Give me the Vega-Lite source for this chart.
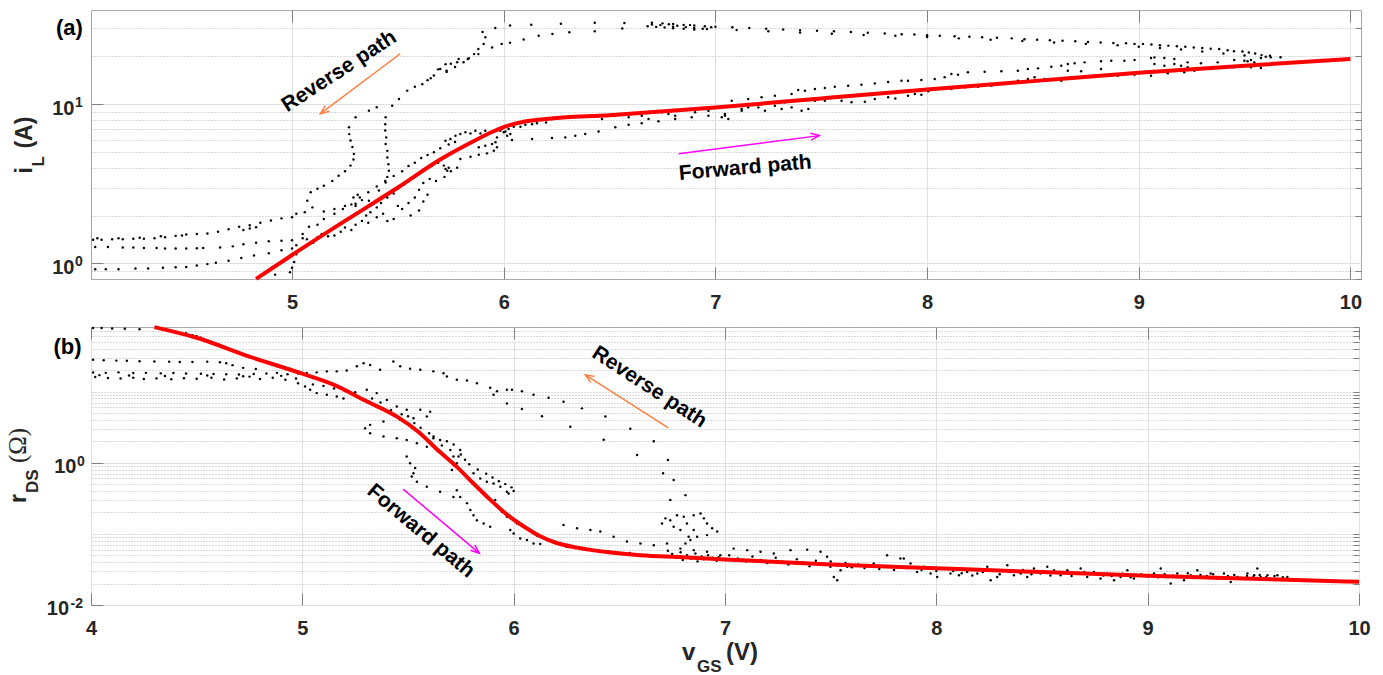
{
  "$schema": "https://vega.github.io/schema/vega-lite/v6.json",
  "background": "white",
  "padding": {"left": 5, "top": 9, "right": 5, "bottom": 5},
  "spacing": 5,
  "config": {
    "view": {"stroke": "#a6a6a6", "strokeWidth": 1},
    "font": "Liberation Sans",
    "axis": {"labelFont": "Liberation Sans", "labelFontSize": 20, "labelFontWeight": "bold", "labelColor": "#262626", "domain": false, "tickColor": "#808080", "gridColor": "#e1e1e1", "labelFlush": false, "labelOverlap": false}
  },
  "datasets": {
    "a_fit": [
      {"x": 4.83, "y": 0.8}, {"x": 5.0, "y": 1.13}, {"x": 5.25, "y": 1.85}, {"x": 5.5, "y": 3.0}, {"x": 5.7, "y": 4.5}, {"x": 5.85, "y": 5.8}, {"x": 5.95, "y": 6.75}, {"x": 6.02, "y": 7.35}, {"x": 6.1, "y": 7.8}, {"x": 6.2, "y": 8.1}, {"x": 6.5, "y": 8.55}, {"x": 7.0, "y": 9.55}, {"x": 7.5, "y": 10.9}, {"x": 8.0, "y": 12.4}, {"x": 8.5, "y": 14.0}, {"x": 9.0, "y": 15.8}, {"x": 9.5, "y": 17.5}, {"x": 10.0, "y": 19.3}
    ],
    "b_fit": [
      {"x": 4.3, "y": 80.5}, {"x": 4.5, "y": 57}, {"x": 4.75, "y": 31}, {"x": 5.0, "y": 17.8}, {"x": 5.15, "y": 12.4}, {"x": 5.3, "y": 7.4}, {"x": 5.45, "y": 4.4}, {"x": 5.55, "y": 2.7}, {"x": 5.65, "y": 1.42}, {"x": 5.73, "y": 0.88}, {"x": 5.81, "y": 0.51}, {"x": 5.89, "y": 0.3}, {"x": 5.97, "y": 0.185}, {"x": 6.05, "y": 0.126}, {"x": 6.13, "y": 0.091}, {"x": 6.2, "y": 0.075}, {"x": 6.3, "y": 0.064}, {"x": 6.45, "y": 0.055}, {"x": 6.6, "y": 0.05}, {"x": 6.8, "y": 0.047}, {"x": 7.0, "y": 0.0436}, {"x": 7.5, "y": 0.037}, {"x": 8.0, "y": 0.0328}, {"x": 8.5, "y": 0.029}, {"x": 9.0, "y": 0.0258}, {"x": 9.5, "y": 0.0234}, {"x": 10.0, "y": 0.0212}
    ],
    "a_dots": [
      {"x":9.67,"y":19.8},{"x":9.62,"y":20.2},{"x":9.58,"y":20.4},{"x":9.55,"y":20.9},{"x":9.52,"y":21.2},{"x":9.49,"y":21.5},{"x":9.45,"y":21.6},{"x":9.42,"y":21.9},{"x":9.38,"y":22.3},{"x":9.34,"y":22.4},{"x":9.3,"y":22.6},{"x":9.26,"y":22.8},{"x":9.22,"y":23.0},{"x":9.18,"y":23.2},{"x":9.14,"y":23.4},{"x":9.1,"y":23.5},{"x":9.06,"y":23.8},{"x":9.02,"y":24.0},{"x":8.98,"y":24.0},{"x":8.94,"y":24.2},{"x":8.88,"y":24.3},{"x":8.82,"y":24.5},{"x":8.76,"y":24.7},{"x":8.7,"y":24.9},{"x":8.64,"y":25.1},{"x":8.58,"y":25.3},{"x":8.52,"y":25.5},{"x":8.46,"y":25.7},{"x":8.4,"y":26.0},{"x":8.33,"y":26.2},{"x":8.26,"y":26.4},{"x":8.2,"y":26.6},{"x":8.13,"y":26.8},{"x":8.06,"y":27.0},{"x":8.0,"y":27.2},{"x":7.94,"y":27.5},{"x":7.88,"y":27.6},{"x":7.8,"y":27.9},{"x":7.72,"y":28.2},{"x":7.64,"y":28.5},{"x":7.56,"y":28.8},{"x":7.48,"y":29.0},{"x":7.4,"y":29.3},{"x":7.32,"y":29.6},{"x":7.24,"y":29.9},{"x":7.16,"y":30.2},{"x":7.08,"y":30.5},{"x":7.0,"y":30.8},{"x":6.95,"y":31.0},{"x":6.9,"y":31.3},{"x":6.85,"y":31.6},{"x":6.8,"y":32.0},{"x":6.75,"y":32.3},{"x":6.7,"y":32.6},
      {"x":9.6,"y":19.9},{"x":9.5,"y":20.3},{"x":9.4,"y":20.9},{"x":9.3,"y":21.5},{"x":9.2,"y":22.1},{"x":9.1,"y":22.6},{"x":9.0,"y":23.0},{"x":8.9,"y":23.5},{"x":8.75,"y":24.0},{"x":8.6,"y":24.5},{"x":8.45,"y":25.0},{"x":8.3,"y":25.5},{"x":8.15,"y":26.0},{"x":8.0,"y":26.5},{"x":7.85,"y":27.0},{"x":7.7,"y":27.3},{"x":7.55,"y":27.8},{"x":7.4,"y":28.3},{"x":7.25,"y":28.8},{"x":7.1,"y":29.3},{"x":6.96,"y":29.8},{"x":6.9,"y":29.5},{"x":6.85,"y":29.9},{"x":6.8,"y":30.1},{"x":6.76,"y":30.4},{"x":6.72,"y":30.7},{"x":6.68,"y":31.0},
      {"x":6.7,"y":31.8},{"x":6.74,"y":31.5},{"x":6.78,"y":31.9},{"x":6.82,"y":31.2},{"x":6.86,"y":30.6},{"x":6.9,"y":30.2},{"x":6.94,"y":29.9},{"x":6.98,"y":30.5},{"x":6.8,"y":30.8},{"x":6.88,"y":31.5},
      {"x":6.57,"y":32.5},{"x":6.43,"y":32.6},{"x":6.27,"y":32.1},{"x":6.13,"y":31.7},{"x":6.03,"y":31.3},{"x":5.96,"y":30.2},{"x":5.9,"y":28.5},{"x":5.913,"y":26.4},{"x":5.905,"y":24.0},{"x":5.88,"y":22.3},{"x":5.86,"y":20.7},{"x":5.83,"y":19.3},{"x":5.78,"y":18.4},{"x":5.73,"y":16.3},
      {"x":6.56,"y":30.0},{"x":6.43,"y":28.8},{"x":6.31,"y":28.4},{"x":6.23,"y":27.7},{"x":6.165,"y":27.0},{"x":6.094,"y":25.6},{"x":6.03,"y":24.4},{"x":5.99,"y":24.0},{"x":5.945,"y":22.8},{"x":5.88,"y":20.7},{"x":5.835,"y":19.5},{"x":5.81,"y":18.4},{"x":5.77,"y":17.2},{"x":5.73,"y":16.0},
      {"x":5.787,"y":19.3},{"x":5.75,"y":18.0},{"x":5.725,"y":17.9},{"x":5.7,"y":16.7},{"x":5.69,"y":16.6},{"x":5.67,"y":15.2},{"x":5.655,"y":14.6},{"x":5.64,"y":14.2},{"x":5.615,"y":13.4},{"x":5.58,"y":12.9},{"x":5.544,"y":12.2},{"x":5.505,"y":10.8},{"x":5.473,"y":9.8},{"x":5.442,"y":8.3},{"x":5.44,"y":7.5},{"x":5.44,"y":6.84},{"x":5.445,"y":6.2},{"x":5.442,"y":5.63},{"x":5.45,"y":5.1},{"x":5.45,"y":4.64},{"x":5.455,"y":4.2},{"x":5.457,"y":3.83},{"x":5.45,"y":3.5},{"x":5.442,"y":3.23},{"x":5.41,"y":2.87},{"x":5.363,"y":2.48},{"x":5.3,"y":2.37},{"x":5.25,"y":2.3},{"x":5.2,"y":2.2},{"x":5.15,"y":2.12},
      {"x":5.4,"y":9.6},{"x":5.363,"y":9.13},{"x":5.3,"y":8.3},{"x":5.269,"y":7.17},{"x":5.27,"y":6.5},{"x":5.276,"y":5.92},{"x":5.285,"y":5.4},{"x":5.292,"y":4.88},{"x":5.29,"y":4.5},{"x":5.276,"y":4.12},{"x":5.25,"y":3.8},{"x":5.22,"y":3.56},{"x":5.19,"y":3.3},{"x":5.15,"y":3.08},{"x":5.12,"y":2.95},{"x":5.088,"y":2.8},{"x":5.072,"y":2.48},{"x":5.096,"y":2.25},{"x":5.06,"y":2.1},{"x":5.02,"y":2.05},
      {"x":4.06,"y":1.41},{"x":4.1,"y":1.41},{"x":4.15,"y":1.42},{"x":4.2,"y":1.42},{"x":4.25,"y":1.43},{"x":4.3,"y":1.43},{"x":4.35,"y":1.44},{"x":4.4,"y":1.46},{"x":4.45,"y":1.49},{"x":4.5,"y":1.52},{"x":4.55,"y":1.53},{"x":4.6,"y":1.54},{"x":4.65,"y":1.58},{"x":4.7,"y":1.64},{"x":4.75,"y":1.7},{"x":4.8,"y":1.74},{"x":4.85,"y":1.8},{"x":4.9,"y":1.86},{"x":4.95,"y":1.92},{"x":5.0,"y":1.95},
      {"x":4.08,"y":1.44},{"x":4.18,"y":1.44},{"x":4.28,"y":1.45},{"x":4.38,"y":1.48},{"x":4.48,"y":1.5},{"x":4.77,"y":1.62},{"x":4.8,"y":1.66},{"x":4.83,"y":1.69},
      {"x":4.07,"y":1.27},{"x":4.13,"y":1.27},{"x":4.2,"y":1.26},{"x":4.25,"y":1.26},{"x":4.3,"y":1.25},{"x":4.36,"y":1.25},{"x":4.4,"y":1.24},{"x":4.45,"y":1.24},{"x":4.5,"y":1.24},{"x":4.55,"y":1.245},{"x":4.58,"y":1.25},{"x":4.66,"y":1.26},{"x":4.72,"y":1.28},{"x":4.77,"y":1.32},{"x":4.83,"y":1.35},{"x":4.89,"y":1.38},{"x":4.95,"y":1.39},{"x":5.0,"y":1.4},{"x":5.05,"y":1.44},
      {"x":4.07,"y":0.92},{"x":4.12,"y":0.92},{"x":4.18,"y":0.92},{"x":4.26,"y":0.93},{"x":4.32,"y":0.93},{"x":4.39,"y":0.94},{"x":4.45,"y":0.945},{"x":4.5,"y":0.95},{"x":4.55,"y":0.97},{"x":4.6,"y":0.99},{"x":4.64,"y":1.01},{"x":4.7,"y":1.04},{"x":4.76,"y":1.08},{"x":4.82,"y":1.12},{"x":4.89,"y":1.16},{"x":4.95,"y":1.21},{"x":5.0,"y":1.24},
      {"x":4.92,"y":0.85},{"x":4.99,"y":0.88},{"x":5.0,"y":0.94},{"x":5.01,"y":1.02},{"x":5.02,"y":1.14},
      {"x":5.02,"y":1.3},{"x":5.05,"y":1.53},{"x":5.07,"y":1.42},{"x":5.1,"y":1.35},{"x":5.12,"y":1.46},{"x":5.14,"y":1.53},{"x":5.17,"y":1.48},{"x":5.2,"y":1.5},{"x":5.23,"y":1.58},{"x":5.25,"y":1.68},{"x":5.28,"y":1.62},{"x":5.3,"y":1.75},{"x":5.33,"y":1.85},{"x":5.35,"y":2.0},{"x":5.37,"y":2.1},{"x":5.4,"y":2.25},{"x":5.42,"y":2.4},{"x":5.45,"y":2.6},{"x":5.48,"y":2.75},{"x":5.5,"y":2.95},{"x":5.53,"y":3.15},{"x":5.55,"y":3.3},{"x":5.58,"y":3.5},{"x":5.6,"y":3.7},{"x":5.63,"y":3.9},{"x":5.66,"y":4.1},{"x":5.69,"y":4.3},
      {"x":5.08,"y":1.7},{"x":5.12,"y":1.75},{"x":5.15,"y":1.9},{"x":5.2,"y":2.05},{"x":5.24,"y":2.2},{"x":5.28,"y":2.35},{"x":5.32,"y":2.6},{"x":5.36,"y":2.8},{"x":5.4,"y":3.05},{"x":5.44,"y":3.3},{"x":5.48,"y":3.55},{"x":5.52,"y":3.8},{"x":5.55,"y":4.1},{"x":5.58,"y":4.3},{"x":5.61,"y":4.6},{"x":5.64,"y":4.8},{"x":5.67,"y":5.0},{"x":5.7,"y":5.3},{"x":5.74,"y":5.6},{"x":5.77,"y":5.8},
      {"x":5.3,"y":2.3},{"x":5.33,"y":2.5},{"x":5.31,"y":2.7},{"x":5.29,"y":2.6},{"x":5.5,"y":2.3},{"x":5.52,"y":2.2},{"x":5.55,"y":2.4},{"x":5.58,"y":2.6},{"x":5.6,"y":2.9},{"x":5.62,"y":3.2},{"x":5.65,"y":3.4},{"x":5.68,"y":3.3},{"x":5.72,"y":3.5},{"x":5.75,"y":3.8},{"x":5.78,"y":4.0},{"x":5.4,"y":1.95},{"x":5.43,"y":2.05},{"x":5.45,"y":1.85},{"x":5.48,"y":1.9},{"x":5.36,"y":1.8},{"x":5.56,"y":2.0},{"x":5.6,"y":2.15},{"x":5.62,"y":2.45},{"x":5.64,"y":2.7},
      {"x":5.725,"y":5.91},{"x":5.748,"y":6.05},{"x":5.772,"y":6.35},{"x":5.795,"y":6.51},{"x":5.819,"y":6.67},{"x":5.843,"y":6.57},{"x":5.866,"y":6.83},{"x":5.89,"y":6.57},{"x":5.913,"y":6.83},{"x":5.945,"y":6.73},{"x":5.968,"y":7.0},{"x":5.984,"y":6.83},{"x":6.0,"y":6.67},{"x":6.016,"y":6.35},{"x":6.031,"y":6.51},
      {"x":5.717,"y":4.12},{"x":5.725,"y":3.92},{"x":5.733,"y":3.83},{"x":5.74,"y":4.0},{"x":5.795,"y":4.53},{"x":5.843,"y":4.69},{"x":5.882,"y":4.82},{"x":5.921,"y":4.92},{"x":5.953,"y":5.11},{"x":5.968,"y":5.37},{"x":5.961,"y":5.77},{"x":5.968,"y":6.2},{"x":5.945,"y":5.63},{"x":5.913,"y":5.5},{"x":5.882,"y":5.37},{"x":6.039,"y":5.97},
      {"x":5.992,"y":7.0},{"x":6.008,"y":6.76},{"x":6.023,"y":7.0},{"x":6.047,"y":7.24},{"x":6.079,"y":7.24},{"x":6.102,"y":7.45},{"x":6.134,"y":7.5},{"x":6.157,"y":7.6},{"x":6.2,"y":7.7},
      {"x":6.134,"y":6.05},{"x":6.228,"y":6.14},{"x":6.291,"y":6.2},{"x":6.338,"y":6.35},{"x":6.385,"y":6.51},{"x":6.448,"y":6.76},{"x":6.527,"y":7.17},{"x":6.59,"y":7.45},{"x":6.652,"y":7.6},{"x":6.731,"y":7.82},{"x":6.81,"y":8.09},{"x":6.888,"y":8.29},{"x":6.967,"y":8.48},{"x":7.045,"y":8.7},{"x":7.124,"y":9.12},{"x":7.203,"y":9.57},{"x":7.281,"y":9.81},{"x":7.313,"y":9.35},{"x":7.36,"y":9.57},{"x":7.407,"y":9.12},{"x":7.439,"y":9.35},
      {"x":6.228,"y":8.09},{"x":6.338,"y":8.29},{"x":6.464,"y":8.09},{"x":6.527,"y":8.48},{"x":6.652,"y":8.48},{"x":6.747,"y":8.91},{"x":6.794,"y":9.12},
      {"x":6.59,"y":8.29},{"x":6.684,"y":8.09},{"x":6.778,"y":8.7},{"x":6.81,"y":8.48},{"x":6.904,"y":8.91},{"x":6.967,"y":9.12},{"x":7.03,"y":8.29},{"x":7.045,"y":8.48},{"x":7.061,"y":8.09},{"x":7.124,"y":9.35},{"x":7.155,"y":9.57},{"x":7.234,"y":9.12},{"x":7.329,"y":10.29},{"x":7.376,"y":10.55},{"x":7.47,"y":10.55},{"x":7.517,"y":10.55},
      {"x":7.077,"y":10.55},{"x":7.155,"y":10.8},{"x":7.218,"y":11.07},{"x":7.281,"y":11.34},{"x":7.36,"y":11.61},{"x":7.391,"y":12.31},{"x":7.423,"y":12.19},{"x":7.47,"y":12.49},{"x":7.517,"y":12.67},{"x":7.564,"y":12.92},{"x":7.627,"y":13.11},{"x":7.69,"y":13.3},{"x":7.753,"y":13.55},{"x":7.816,"y":13.82},{"x":7.879,"y":14.09},
      {"x":7.596,"y":10.55},{"x":7.643,"y":10.3},{"x":7.706,"y":10.4},{"x":7.753,"y":10.8},{"x":7.816,"y":11.07},{"x":7.85,"y":10.9},
      {"x":7.91,"y":14.09},{"x":7.973,"y":14.22},{"x":8.036,"y":14.43},{"x":8.083,"y":14.79},{"x":8.115,"y":15.52},{"x":8.146,"y":15.37},{"x":8.193,"y":15.9},{"x":8.272,"y":16.05},{"x":8.351,"y":16.13},{"x":8.429,"y":16.28},{"x":8.476,"y":16.68},{"x":8.524,"y":16.84},{"x":8.587,"y":17.26},{"x":8.634,"y":17.51},{"x":8.665,"y":17.93},{"x":8.697,"y":18.11},{"x":8.744,"y":18.37},{"x":8.822,"y":18.64},{"x":8.87,"y":18.82},{"x":8.932,"y":18.82},{"x":8.98,"y":19.0},{"x":9.058,"y":19.56},{"x":9.074,"y":19.75},{"x":9.121,"y":19.56},{"x":9.168,"y":19.28},{"x":9.231,"y":18.37},{"x":9.294,"y":18.11},{"x":9.373,"y":18.37},{"x":9.451,"y":19.0},{"x":9.499,"y":18.82},{"x":9.53,"y":19.0},{"x":9.577,"y":19.56},{"x":9.624,"y":19.75},
      {"x":7.91,"y":11.34},{"x":7.942,"y":11.61},{"x":7.973,"y":11.5},{"x":8.005,"y":12.07},{"x":8.068,"y":12.67},{"x":8.115,"y":12.49},{"x":8.178,"y":12.79},{"x":8.241,"y":12.92},{"x":8.272,"y":13.3},{"x":8.304,"y":13.11},{"x":8.366,"y":13.43},{"x":8.429,"y":14.09},{"x":8.476,"y":14.43},{"x":8.508,"y":14.79},{"x":8.555,"y":14.43},{"x":8.634,"y":14.09},{"x":8.697,"y":14.65},{"x":8.76,"y":14.93},{"x":8.822,"y":15.15},{"x":8.901,"y":15.15},{"x":8.98,"y":15.37},{"x":9.058,"y":15.15},{"x":9.137,"y":15.67},{"x":9.215,"y":15.9},{"x":9.263,"y":16.28},{"x":9.341,"y":16.68},{"x":9.451,"y":17.09},{"x":9.53,"y":17.09},{"x":9.577,"y":16.93},
      {"x":8.665,"y":16.28},{"x":8.728,"y":16.13},{"x":8.822,"y":16.68},{"x":9.074,"y":17.93},{"x":9.121,"y":17.51},{"x":9.168,"y":17.93},{"x":9.2,"y":17.51},{"x":9.231,"y":17.09},{"x":9.514,"y":18.64},{"x":9.546,"y":18.37}
    ],
    "b_dots": [
      {"x":4.01,"y":78},{"x":4.05,"y":78},{"x":4.1,"y":77},{"x":4.16,"y":76.5},{"x":4.23,"y":75},{"x":4.45,"y":66},{"x":4.48,"y":62},{"x":4.5,"y":60},{"x":4.52,"y":57},
      {"x":4.01,"y":28},{"x":4.06,"y":27.5},{"x":4.12,"y":27.2},{"x":4.17,"y":27},{"x":4.23,"y":26.7},{"x":4.3,"y":26.5},{"x":4.37,"y":26.3},{"x":4.42,"y":26},{"x":4.48,"y":26},{"x":4.55,"y":26.3},{"x":4.61,"y":25.8},{"x":4.64,"y":25},{"x":4.67,"y":23.5},{"x":4.72,"y":21.5},{"x":4.78,"y":20.8},
      {"x":4.01,"y":18.5},{"x":4.07,"y":18.3},{"x":4.13,"y":18.6},{"x":4.2,"y":18.2},{"x":4.26,"y":18.3},{"x":4.33,"y":18},{"x":4.39,"y":18.2},{"x":4.45,"y":17.9},{"x":4.52,"y":17.8},{"x":4.58,"y":17.6},{"x":4.64,"y":17.5},{"x":4.7,"y":17.3},{"x":4.77,"y":17.6},{"x":4.83,"y":17.9},{"x":4.88,"y":18.3},{"x":4.93,"y":17.5},{"x":4.98,"y":17.9},
      {"x":4.02,"y":16.0},{"x":4.08,"y":15.5},{"x":4.14,"y":15.2},{"x":4.2,"y":15.6},{"x":4.25,"y":15.0},{"x":4.31,"y":15.3},{"x":4.38,"y":14.9},{"x":4.44,"y":15.4},{"x":4.5,"y":15.1},{"x":4.57,"y":15.6},{"x":4.63,"y":14.8},{"x":4.69,"y":15.3},{"x":4.75,"y":16.2},{"x":4.8,"y":15.0},{"x":4.86,"y":15.6},{"x":4.92,"y":14.6},{"x":4.97,"y":15.2},
      {"x":4.04,"y":17.0},{"x":4.18,"y":16.8},{"x":4.35,"y":16.5},{"x":4.55,"y":16.8},{"x":4.72,"y":16.4},{"x":4.9,"y":16.6},
      {"x":5.021,"y":18.2},{"x":5.068,"y":18.6},{"x":5.116,"y":19.2},{"x":5.163,"y":19.2},{"x":5.21,"y":19.8},{"x":5.258,"y":22.6},{"x":5.29,"y":25},{"x":5.321,"y":23.6},{"x":5.368,"y":20.2},{"x":5.431,"y":26.5},{"x":5.463,"y":22.6},{"x":5.51,"y":20.9},{"x":5.558,"y":20.2},{"x":5.62,"y":19.2},{"x":5.668,"y":18.1},{"x":5.684,"y":16.3},{"x":5.731,"y":14.6},{"x":5.779,"y":14.3},{"x":5.826,"y":13.1},{"x":5.889,"y":11.3},{"x":5.905,"y":9.0},{"x":5.921,"y":10.1},{"x":5.968,"y":10.6},{"x":5.992,"y":10.6},{"x":6.039,"y":10.1},{"x":6.094,"y":9.0},{"x":6.165,"y":8.2},{"x":6.236,"y":7.2},{"x":5.968,"y":6.8},{"x":6.039,"y":5.7},{"x":6.134,"y":4.5},{"x":6.268,"y":3.2},{"x":6.323,"y":5.8},{"x":6.434,"y":4.45},{"x":6.426,"y":2.1},{"x":6.552,"y":3.0},{"x":6.584,"y":1.28},{"x":6.663,"y":2.0},{"x":6.707,"y":0.71},{"x":6.73,"y":1.09},{"x":6.757,"y":0.57},{"x":6.813,"y":0.35},{"x":6.741,"y":0.3},
      {"x":5.013,"y":11.8},{"x":5.037,"y":10.6},{"x":5.068,"y":9.5},{"x":5.116,"y":9.0},{"x":5.163,"y":8.5},{"x":5.195,"y":8.0},{"x":4.98,"y":13.1},{"x":5.05,"y":12.6},{"x":5.1,"y":12.0},{"x":5.15,"y":11.0},{"x":5.2,"y":10.3},{"x":5.25,"y":9.8},
      {"x":5.305,"y":10.6},{"x":5.352,"y":9.5},{"x":5.4,"y":7.6},{"x":5.447,"y":6.15},{"x":5.494,"y":5.53},{"x":5.558,"y":5.53},{"x":5.605,"y":5.2},{"x":5.589,"y":4.45},{"x":5.526,"y":4.2},{"x":5.463,"y":4.0},{"x":5.384,"y":3.8},{"x":5.321,"y":3.4},{"x":5.297,"y":3.05},{"x":5.321,"y":2.6},{"x":5.384,"y":2.33},{"x":5.447,"y":2.2},{"x":5.494,"y":2.09},{"x":5.542,"y":1.88},{"x":5.589,"y":1.68},
      {"x":5.33,"y":8.0},{"x":5.37,"y":7.0},{"x":5.42,"y":5.5},{"x":5.47,"y":4.8},{"x":5.5,"y":4.5},{"x":5.53,"y":3.6},{"x":5.56,"y":3.1},{"x":5.6,"y":2.6},{"x":5.62,"y":2.2},{"x":5.66,"y":1.75},
      {"x":5.494,"y":1.22},{"x":5.51,"y":0.98},{"x":5.534,"y":0.84},{"x":5.526,"y":0.71},{"x":5.518,"y":0.64},{"x":5.542,"y":0.54},{"x":5.589,"y":0.46},{"x":5.652,"y":0.39},{"x":5.715,"y":0.33},
      {"x":5.621,"y":2.33},{"x":5.652,"y":2.09},{"x":5.684,"y":2.0},{"x":5.7,"y":1.51},{"x":5.716,"y":1.8},{"x":5.715,"y":1.22},{"x":5.731,"y":0.98},{"x":5.747,"y":1.51},{"x":5.739,"y":1.22},{"x":5.716,"y":0.98},{"x":5.708,"y":0.79},
      {"x":5.81,"y":0.71},{"x":5.842,"y":0.6},{"x":5.873,"y":0.54},{"x":5.905,"y":0.51},{"x":5.937,"y":0.46},{"x":5.968,"y":0.39},{"x":5.976,"y":0.37},{"x":5.75,"y":1.3},{"x":5.77,"y":1.1},{"x":5.79,"y":0.95},{"x":5.83,"y":0.8},{"x":5.87,"y":0.7},{"x":5.9,"y":0.62},{"x":5.93,"y":0.55},{"x":5.96,"y":0.5},{"x":5.99,"y":0.45},{"x":6.0,"y":0.4},
      {"x":5.731,"y":0.41},{"x":5.747,"y":0.33},{"x":5.779,"y":0.27},{"x":5.795,"y":0.216},{"x":5.81,"y":0.183},{"x":5.826,"y":0.155},{"x":5.858,"y":0.14},{"x":5.889,"y":0.126},
      {"x":5.913,"y":0.3},{"x":5.921,"y":0.24},{"x":5.944,"y":0.205},{"x":5.968,"y":0.174},{"x":6.016,"y":0.14},{"x":6.047,"y":0.126},
      {"x":5.984,"y":0.113},{"x":6.0,"y":0.101},{"x":6.031,"y":0.086},{"x":6.063,"y":0.082},{"x":6.094,"y":0.073},{"x":6.126,"y":0.072},{"x":6.158,"y":0.082},{"x":6.14,"y":0.09},{"x":6.11,"y":0.095},
      {"x":6.236,"y":0.133},{"x":6.3,"y":0.12},{"x":6.363,"y":0.113},{"x":6.41,"y":0.108},{"x":6.473,"y":0.091},{"x":6.536,"y":0.078},{"x":6.6,"y":0.073},{"x":6.663,"y":0.069},{"x":6.726,"y":0.073},{"x":6.789,"y":0.062},{"x":6.852,"y":0.059},{"x":6.915,"y":0.056},{"x":6.978,"y":0.05},{"x":7.041,"y":0.062},{"x":7.105,"y":0.059},{"x":7.168,"y":0.056},{"x":7.231,"y":0.053},{"x":7.31,"y":0.059},{"x":7.389,"y":0.06},{"x":7.452,"y":0.056},{"x":7.483,"y":0.0475},{"x":7.499,"y":0.0344},{"x":7.515,"y":0.0248},{"x":7.531,"y":0.0223},{"x":7.547,"y":0.0308},{"x":7.578,"y":0.0344},{"x":7.641,"y":0.036},{"x":7.704,"y":0.0383},{"x":7.767,"y":0.05},{"x":7.83,"y":0.045},
      {"x":6.25,"y":0.066},{"x":6.35,"y":0.06},{"x":6.45,"y":0.057},{"x":6.55,"y":0.054},
      {"x":6.73,"y":0.058},{"x":6.75,"y":0.052},{"x":6.77,"y":0.046},{"x":6.79,"y":0.055},{"x":6.8,"y":0.043},{"x":6.82,"y":0.05},{"x":6.84,"y":0.045},{"x":6.86,"y":0.053},{"x":6.87,"y":0.041},{"x":6.89,"y":0.048},{"x":6.9,"y":0.044},{"x":6.92,"y":0.05},{"x":6.94,"y":0.046},{"x":6.96,"y":0.042},{"x":6.97,"y":0.047},{"x":6.99,"y":0.044},
      {"x":6.702,"y":0.14},{"x":6.718,"y":0.165},{"x":6.741,"y":0.155},{"x":6.773,"y":0.183},{"x":6.805,"y":0.174},{"x":6.852,"y":0.183},{"x":6.884,"y":0.193},{"x":6.9,"y":0.165},{"x":6.915,"y":0.14},{"x":6.939,"y":0.12},{"x":6.963,"y":0.108},{"x":6.915,"y":0.096},{"x":6.868,"y":0.091},{"x":6.836,"y":0.082},{"x":6.813,"y":0.073},{"x":6.789,"y":0.113},{"x":6.757,"y":0.126},{"x":6.82,"y":0.14},{"x":6.852,"y":0.113},{"x":6.828,"y":0.091},
      {"x":7.02,"y":0.05},{"x":7.06,"y":0.045},{"x":7.1,"y":0.041},{"x":7.13,"y":0.048},{"x":7.17,"y":0.043},{"x":7.2,"y":0.039},{"x":7.24,"y":0.046},{"x":7.27,"y":0.041},{"x":7.3,"y":0.037},{"x":7.34,"y":0.044},{"x":7.37,"y":0.04},{"x":7.4,"y":0.035},{"x":7.43,"y":0.042},{"x":7.46,"y":0.038},{"x":7.5,"y":0.041},{"x":7.53,"y":0.036},{"x":7.57,"y":0.039},{"x":7.6,"y":0.034},{"x":7.63,"y":0.037},{"x":7.66,"y":0.033},{"x":7.7,"y":0.036},{"x":7.73,"y":0.032},{"x":7.76,"y":0.035},{"x":7.8,"y":0.031},
      {"x":7.846,"y":0.045},{"x":7.878,"y":0.0383},{"x":7.909,"y":0.0292},{"x":7.941,"y":0.0344},{"x":7.973,"y":0.0277},{"x":8.004,"y":0.0248},{"x":8.036,"y":0.0326},{"x":8.067,"y":0.0277},{"x":8.107,"y":0.0262},{"x":8.146,"y":0.0292},{"x":8.194,"y":0.0277},{"x":8.241,"y":0.0344},{"x":8.257,"y":0.0223},{"x":8.288,"y":0.0248},{"x":8.336,"y":0.0362},{"x":8.367,"y":0.0262},{"x":8.399,"y":0.0277},{"x":8.43,"y":0.0248},{"x":8.462,"y":0.0326},{"x":8.493,"y":0.0277},{"x":8.525,"y":0.0344},{"x":8.557,"y":0.0308},{"x":8.588,"y":0.0262},{"x":8.62,"y":0.0308},{"x":8.651,"y":0.0277},{"x":8.683,"y":0.0326},{"x":8.714,"y":0.0248},{"x":8.746,"y":0.0292},{"x":8.777,"y":0.0236},{"x":8.809,"y":0.0277},{"x":8.841,"y":0.0223},{"x":8.872,"y":0.0248},{"x":8.904,"y":0.0308},{"x":8.935,"y":0.0236},{"x":8.967,"y":0.0262},{"x":9.03,"y":0.0277},{"x":9.062,"y":0.0326},{"x":9.093,"y":0.0248},{"x":9.109,"y":0.02},{"x":9.14,"y":0.0277},{"x":9.172,"y":0.0223},{"x":9.204,"y":0.0262},{"x":9.235,"y":0.0308},{"x":9.267,"y":0.0248},{"x":9.298,"y":0.0277},{"x":9.33,"y":0.0236},{"x":9.361,"y":0.0277},{"x":9.393,"y":0.0211},{"x":9.425,"y":0.0248},{"x":9.472,"y":0.0277},{"x":9.504,"y":0.0262},{"x":9.519,"y":0.0326},{"x":9.535,"y":0.0248},{"x":9.567,"y":0.0262},{"x":9.614,"y":0.0262},{"x":9.661,"y":0.0248},
      {"x":7.86,"y":0.033},{"x":7.93,"y":0.031},{"x":8.0,"y":0.03},{"x":8.08,"y":0.03},{"x":8.12,"y":0.028},{"x":8.17,"y":0.026},{"x":8.22,"y":0.029},{"x":8.3,"y":0.027},{"x":8.35,"y":0.029},{"x":8.41,"y":0.031},{"x":8.45,"y":0.027},{"x":8.51,"y":0.029},{"x":8.54,"y":0.026},{"x":8.6,"y":0.028},{"x":8.64,"y":0.0255},{"x":8.7,"y":0.029},{"x":8.73,"y":0.027},{"x":8.79,"y":0.026},{"x":8.83,"y":0.0255},{"x":8.88,"y":0.0275},{"x":8.92,"y":0.0245},{"x":8.97,"y":0.027},{"x":9.0,"y":0.025},{"x":9.05,"y":0.0245},{"x":9.08,"y":0.027},{"x":9.12,"y":0.026},{"x":9.16,"y":0.0255},{"x":9.19,"y":0.028},{"x":9.22,"y":0.024},{"x":9.25,"y":0.0265},{"x":9.28,"y":0.0255},{"x":9.31,"y":0.027},{"x":9.34,"y":0.0245},{"x":9.38,"y":0.0255},{"x":9.41,"y":0.0265},{"x":9.44,"y":0.024},{"x":9.47,"y":0.0255},{"x":9.5,"y":0.0245},{"x":9.53,"y":0.0265},{"x":9.56,"y":0.0245},{"x":9.6,"y":0.0255},{"x":9.64,"y":0.0245}
    ]
  },
  "vconcat": [
    {
      "width": 1270,
      "height": 269,
      "layer": [
        {
          "data": {"name": "a_dots"},
          "mark": {"type": "point", "filled": true, "size": 6, "color": "#000000", "opacity": 1},
          "encoding": {
            "x": {"field": "x", "type": "quantitative", "scale": {"domain": [4.05, 10.05], "nice": false, "zero": false},
                  "axis": {"orient": "bottom", "values": [5, 6, 7, 8, 9, 10], "title": null, "grid": true, "tickSize": -12, "labelPadding": 25}},
            "y": {"field": "y", "type": "quantitative", "scale": {"type": "log", "domain": [0.798, 39.2], "nice": false},
                  "axis": {"orient": "left", "values": [1, 10], "title": null, "grid": true, "tickSize": -12, "labelPadding": 29, "labelBaseline": "middle", "labelOffset": 4, "labelExpr": "'10'"}}
          }
        },
        {
          "data": {"name": "a_fit"},
          "mark": {"type": "line", "color": "#ff0000", "strokeWidth": 4, "interpolate": "monotone"},
          "encoding": {
            "x": {"field": "x", "type": "quantitative", "scale": {"domain": [4.05, 10.05], "nice": false, "zero": false},
                  "axis": {"orient": "top", "values": [5, 6, 7, 8, 9, 10], "title": null, "grid": false, "labels": false, "tickSize": -12}},
            "y": {"field": "y", "type": "quantitative", "scale": {"type": "log", "domain": [0.798, 39.2], "nice": false},
                  "axis": {"orient": "right", "values": [0.8, 0.9, 2, 3, 4, 5, 6, 7, 8, 9, 20, 30], "title": null, "labels": false, "grid": true, "gridDash": [1, 2], "gridColor": "#b5b5b5", "tickSize": -6}}
          }
        },
        {
          "data": {"values": [{}]},
          "mark": {"type": "text", "text": "1", "fontSize": 14, "fontWeight": "bold", "color": "#262626", "align": "left", "baseline": "alphabetic", "dy": 3},
          "encoding": {"x": {"datum": 3.974, "type": "quantitative", "axis": null}, "y": {"datum": 10, "type": "quantitative", "axis": null}}
        },
        {
          "data": {"values": [{}]},
          "mark": {"type": "text", "text": "0", "fontSize": 14, "fontWeight": "bold", "color": "#262626", "align": "left", "baseline": "alphabetic", "dy": 3},
          "encoding": {"x": {"datum": 3.974, "type": "quantitative", "axis": null}, "y": {"datum": 1, "type": "quantitative", "axis": null}}
        },
        {
          "data": {"values": [{}]},
          "mark": {"type": "rule", "color": "#ff7f3f", "strokeWidth": 1.5},
          "encoding": {"x": {"datum": 5.511, "type": "quantitative", "axis": null}, "y": {"datum": 20.8, "type": "quantitative", "axis": null}, "x2": {"datum": 5.134}, "y2": {"datum": 8.74}}
        },
        {
          "data": {"values": [{}]},
          "mark": {"type": "point", "shape": "M-1,-0.4L0,0L-1,0.4", "filled": false, "stroke": "#ff7f3f", "strokeWidth": 1.5, "size": 300, "angle": 143, "opacity": 1},
          "encoding": {"x": {"datum": 5.134, "type": "quantitative", "axis": null}, "y": {"datum": 8.74, "type": "quantitative", "axis": null}}
        },
        {
          "data": {"values": [{}]},
          "mark": {"type": "rule", "color": "#ff00ff", "strokeWidth": 1.5},
          "encoding": {"x": {"datum": 6.826, "type": "quantitative", "axis": null}, "y": {"datum": 4.9, "type": "quantitative", "axis": null}, "x2": {"datum": 7.491}, "y2": {"datum": 6.36}}
        },
        {
          "data": {"values": [{}]},
          "mark": {"type": "point", "shape": "M-1,-0.4L0,0L-1,0.4", "filled": false, "stroke": "#ff00ff", "strokeWidth": 1.5, "size": 300, "angle": 352.7, "opacity": 1},
          "encoding": {"x": {"datum": 7.491, "type": "quantitative", "axis": null}, "y": {"datum": 6.36, "type": "quantitative", "axis": null}}
        },
        {
          "data": {"values": [{}]},
          "mark": {"type": "text", "text": "Reverse path", "angle": 327, "fontSize": 21, "fontWeight": "bold", "color": "#000000", "align": "center", "baseline": "middle"},
          "encoding": {"x": {"datum": 5.223, "type": "quantitative", "axis": null}, "y": {"datum": 16.1, "type": "quantitative", "axis": null}}
        },
        {
          "data": {"values": [{}]},
          "mark": {"type": "text", "text": "Forward path", "angle": 355, "fontSize": 21, "fontWeight": "bold", "color": "#000000", "align": "center", "baseline": "middle"},
          "encoding": {"x": {"datum": 7.141, "type": "quantitative", "axis": null}, "y": {"datum": 3.97, "type": "quantitative", "axis": null}}
        },
        {
          "data": {"values": [{}]},
          "mark": {"type": "text", "text": "(a)", "fontSize": 22, "fontWeight": "bold", "color": "#000000", "align": "center", "baseline": "middle"},
          "encoding": {"x": {"datum": 3.948, "type": "quantitative", "axis": null}, "y": {"datum": 30.1, "type": "quantitative", "axis": null}}
        },
        {
          "data": {"values": [{}]},
          "mark": {"type": "text", "text": "i", "angle": 270, "fontSize": 23, "fontWeight": "bold", "color": "#262626", "align": "left", "baseline": "alphabetic"},
          "encoding": {"x": {"datum": 3.773, "type": "quantitative", "axis": null}, "y": {"datum": 3.67, "type": "quantitative", "axis": null}}
        },
        {
          "data": {"values": [{}]},
          "mark": {"type": "text", "text": "L", "angle": 270, "dx": 7, "dy": 12, "fontSize": 17, "fontWeight": "bold", "color": "#262626", "align": "left", "baseline": "alphabetic"},
          "encoding": {"x": {"datum": 3.773, "type": "quantitative", "axis": null}, "y": {"datum": 3.67, "type": "quantitative", "axis": null}}
        },
        {
          "data": {"values": [{}]},
          "mark": {"type": "text", "text": "(A)", "angle": 270, "dx": 25, "fontSize": 23, "fontWeight": "bold", "color": "#262626", "align": "left", "baseline": "alphabetic"},
          "encoding": {"x": {"datum": 3.773, "type": "quantitative", "axis": null}, "y": {"datum": 3.67, "type": "quantitative", "axis": null}}
        }
      ],
      "resolve": {"axis": {"x": "independent", "y": "independent"}}
    },
    {
      "width": 1268,
      "height": 278,
      "layer": [
        {
          "data": {"name": "b_dots"},
          "mark": {"type": "point", "filled": true, "size": 6, "color": "#000000", "opacity": 1},
          "encoding": {
            "x": {"field": "x", "type": "quantitative", "scale": {"domain": [4, 10], "nice": false, "zero": false},
                  "axis": {"orient": "bottom", "values": [4, 5, 6, 7, 8, 9, 10], "title": null, "grid": true, "tickSize": -12, "labelPadding": 25}},
            "y": {"field": "y", "type": "quantitative", "scale": {"type": "log", "domain": [0.01, 80.7], "nice": false},
                  "axis": {"orient": "left", "values": [0.01, 1], "title": null, "grid": true, "tickSize": -12, "labelPadding": 27, "labelBaseline": "middle", "labelOffset": 4, "labelExpr": "datum.value > 0.5 ? '10' : ''"}}
          }
        },
        {
          "data": {"name": "b_fit"},
          "mark": {"type": "line", "color": "#ff0000", "strokeWidth": 4, "interpolate": "monotone"},
          "encoding": {
            "x": {"field": "x", "type": "quantitative", "scale": {"domain": [4, 10], "nice": false, "zero": false},
                  "axis": {"orient": "top", "values": [4, 5, 6, 7, 8, 9, 10], "title": null, "grid": false, "labels": false, "tickSize": -12}},
            "y": {"field": "y", "type": "quantitative", "scale": {"type": "log", "domain": [0.01, 80.7], "nice": false},
                  "axis": {"orient": "right", "values": [0.02, 0.03, 0.04, 0.05, 0.06, 0.07, 0.08, 0.09, 0.1, 0.2, 0.3, 0.4, 0.5, 0.6, 0.7, 0.8, 0.9, 2, 3, 4, 5, 6, 7, 8, 9, 10, 20, 30, 40, 50, 60, 70, 80], "title": null, "labels": false, "grid": true, "gridDash": [1, 2], "gridColor": "#b5b5b5", "tickSize": -6}}
          }
        },
        {
          "data": {"values": [{}]},
          "mark": {"type": "text", "text": "0", "fontSize": 14, "fontWeight": "bold", "color": "#262626", "align": "left", "baseline": "alphabetic", "dy": 3},
          "encoding": {"x": {"datum": 3.934, "type": "quantitative", "axis": null}, "y": {"datum": 1, "type": "quantitative", "axis": null}}
        },
        {
          "data": {"values": [{}]},
          "mark": {"type": "text", "text": "10", "fontSize": 20, "fontWeight": "bold", "color": "#262626", "align": "right", "baseline": "middle", "dy": 4},
          "encoding": {"x": {"datum": 3.896, "type": "quantitative", "axis": null}, "y": {"datum": 0.01, "type": "quantitative", "axis": null}}
        },
        {
          "data": {"values": [{}]},
          "mark": {"type": "text", "text": "-2", "fontSize": 14, "fontWeight": "bold", "color": "#262626", "align": "left", "baseline": "alphabetic", "dy": 3},
          "encoding": {"x": {"datum": 3.903, "type": "quantitative", "axis": null}, "y": {"datum": 0.01, "type": "quantitative", "axis": null}}
        },
        {
          "data": {"values": [{}]},
          "mark": {"type": "rule", "color": "#ff7f3f", "strokeWidth": 1.5},
          "encoding": {"x": {"datum": 6.732, "type": "quantitative", "axis": null}, "y": {"datum": 3.08, "type": "quantitative", "axis": null}, "x2": {"datum": 6.339}, "y2": {"datum": 17.2}}
        },
        {
          "data": {"values": [{}]},
          "mark": {"type": "point", "shape": "M-1,-0.4L0,0L-1,0.4", "filled": false, "stroke": "#ff7f3f", "strokeWidth": 1.5, "size": 300, "angle": 212.6, "opacity": 1},
          "encoding": {"x": {"datum": 6.339, "type": "quantitative", "axis": null}, "y": {"datum": 17.2, "type": "quantitative", "axis": null}}
        },
        {
          "data": {"values": [{}]},
          "mark": {"type": "rule", "color": "#ff00ff", "strokeWidth": 1.5},
          "encoding": {"x": {"datum": 5.477, "type": "quantitative", "axis": null}, "y": {"datum": 0.426, "type": "quantitative", "axis": null}, "x2": {"datum": 5.837}, "y2": {"datum": 0.0535}}
        },
        {
          "data": {"values": [{}]},
          "mark": {"type": "point", "shape": "M-1,-0.4L0,0L-1,0.4", "filled": false, "stroke": "#ff00ff", "strokeWidth": 1.5, "size": 300, "angle": 40.1, "opacity": 1},
          "encoding": {"x": {"datum": 5.837, "type": "quantitative", "axis": null}, "y": {"datum": 0.0535, "type": "quantitative", "axis": null}}
        },
        {
          "data": {"values": [{}]},
          "mark": {"type": "text", "text": "Reverse path", "angle": 33, "fontSize": 21, "fontWeight": "bold", "color": "#000000", "align": "center", "baseline": "middle"},
          "encoding": {"x": {"datum": 6.642, "type": "quantitative", "axis": null}, "y": {"datum": 11.5, "type": "quantitative", "axis": null}}
        },
        {
          "data": {"values": [{}]},
          "mark": {"type": "text", "text": "Forward path", "angle": 40, "fontSize": 21, "fontWeight": "bold", "color": "#000000", "align": "center", "baseline": "middle"},
          "encoding": {"x": {"datum": 5.56, "type": "quantitative", "axis": null}, "y": {"datum": 0.109, "type": "quantitative", "axis": null}}
        },
        {
          "data": {"values": [{}]},
          "mark": {"type": "text", "text": "(b)", "fontSize": 22, "fontWeight": "bold", "color": "#000000", "align": "center", "baseline": "middle"},
          "encoding": {"x": {"datum": 3.889, "type": "quantitative", "axis": null}, "y": {"datum": 42.6, "type": "quantitative", "axis": null}}
        },
        {
          "data": {"values": [{}]},
          "mark": {"type": "text", "text": "r", "angle": 270, "fontSize": 23, "fontWeight": "bold", "color": "#262626", "align": "left", "baseline": "alphabetic"},
          "encoding": {"x": {"datum": 3.692, "type": "quantitative", "axis": null}, "y": {"datum": 0.2706, "type": "quantitative", "axis": null}}
        },
        {
          "data": {"values": [{}]},
          "mark": {"type": "text", "text": "DS", "angle": 270, "dx": 10, "dy": 12, "fontSize": 17, "fontWeight": "bold", "color": "#262626", "align": "left", "baseline": "alphabetic"},
          "encoding": {"x": {"datum": 3.692, "type": "quantitative", "axis": null}, "y": {"datum": 0.2706, "type": "quantitative", "axis": null}}
        },
        {
          "data": {"values": [{}]},
          "mark": {"type": "text", "text": "(Ω)", "angle": 270, "dx": 40, "fontSize": 25, "font": "Liberation Serif", "fontWeight": "normal", "color": "#262626", "align": "left", "baseline": "alphabetic"},
          "encoding": {"x": {"datum": 3.692, "type": "quantitative", "axis": null}, "y": {"datum": 0.2706, "type": "quantitative", "axis": null}}
        },
        {
          "data": {"values": [{}]},
          "mark": {"type": "text", "text": "v", "fontSize": 24, "fontWeight": "bold", "color": "#262626", "align": "left", "baseline": "alphabetic"},
          "encoding": {"x": {"datum": 6.797, "type": "quantitative", "axis": null}, "y": {"datum": 0.001664, "type": "quantitative", "axis": null}}
        },
        {
          "data": {"values": [{}]},
          "mark": {"type": "text", "text": "GS", "dx": 15, "dy": 12, "fontSize": 17, "fontWeight": "bold", "color": "#262626", "align": "left", "baseline": "alphabetic"},
          "encoding": {"x": {"datum": 6.797, "type": "quantitative", "axis": null}, "y": {"datum": 0.001664, "type": "quantitative", "axis": null}}
        },
        {
          "data": {"values": [{}]},
          "mark": {"type": "text", "text": "(V)", "dx": 44, "fontSize": 24, "fontWeight": "bold", "color": "#262626", "align": "left", "baseline": "alphabetic"},
          "encoding": {"x": {"datum": 6.797, "type": "quantitative", "axis": null}, "y": {"datum": 0.001664, "type": "quantitative", "axis": null}}
        }
      ],
      "resolve": {"axis": {"x": "independent", "y": "independent"}}
    }
  ]
}
